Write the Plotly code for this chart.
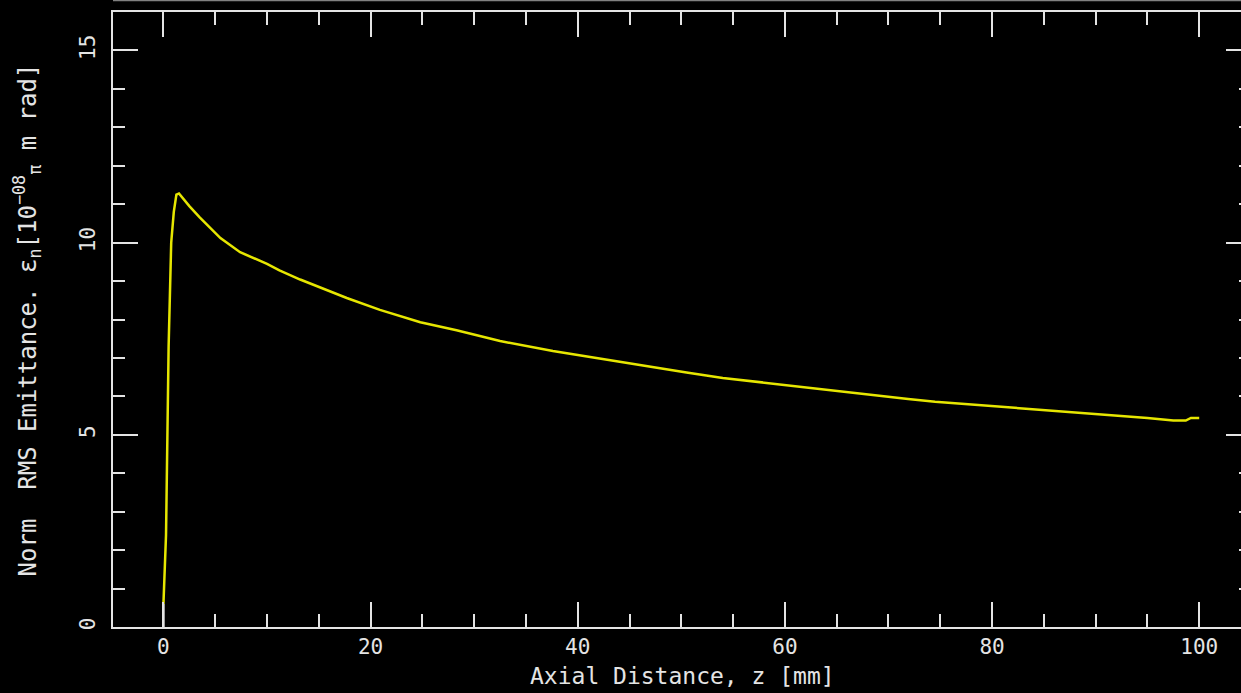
import plotly.graph_objects as go

# Normalised RMS emittance along the beam axis
z_mm = [0.0, 0.25, 0.5, 0.75, 1.0, 1.25, 1.5, 2.0, 2.5, 3.5, 4.5, 5.5, 6.0,
        7.4, 10.0, 11.2, 13.2, 14.5, 17.7, 20.9, 24.8, 28.3, 32.5, 37.6,
        41.2, 45.5, 50.5, 54.0, 58.2, 62.7, 67.5, 71.9, 74.5, 78.0, 81.0,
        84.5, 88.0, 91.5, 95.0, 97.5, 98.7, 99.2, 100.0]
emit_n = [0.6, 2.4, 7.3, 10.0, 10.8, 11.25, 11.28, 11.1, 10.95, 10.66, 10.38,
          10.12, 10.02, 9.75, 9.45, 9.28, 9.04, 8.9, 8.56, 8.25, 7.93, 7.72,
          7.44, 7.18, 7.02, 6.83, 6.62, 6.48, 6.35, 6.20, 6.07, 5.93, 5.86,
          5.79, 5.72, 5.65, 5.58, 5.51, 5.44, 5.37, 5.37, 5.44, 5.44]

# short starting segment at the cathode
z_start = [0.0, 0.0]
emit_start = [0.0, 0.6]

x_ticks = [0, 20, 40, 60, 80, 100]
y_ticks = [0, 5, 10, 15]

x_title = "Axial Distance, z [mm]"
y_title = ("Norm\u00a0 RMS Emittance. \u03b5<sub>n</sub>"
           "[10<sup>\u221208</sup><sub>\u03c0</sub> m rad]")

FG = "#e4e4e4"
FONT = "DejaVu Sans Mono"

fig = go.Figure()
fig.add_trace(go.Scatter(x=z_start, y=emit_start, mode="lines",
                         line=dict(color=FG, width=2.5), showlegend=False))
fig.add_trace(go.Scatter(x=z_mm, y=emit_n, mode="lines",
                         line=dict(color="#e6e600", width=2.5), showlegend=False))

axis_common = dict(
    showgrid=False, zeroline=False, showline=True, linecolor=FG, linewidth=2,
    mirror="ticks", ticks="inside", ticklen=25, tickwidth=2, tickcolor=FG,
    tickfont=dict(family=FONT, size=21, color=FG), automargin=False,
)

fig.update_xaxes(
    **axis_common,
    range=[-4.87, 105], tickvals=x_ticks, ticktext=[str(v) for v in x_ticks],
    minor=dict(dtick=5, tick0=0, ticks="inside", ticklen=13, tickwidth=2,
               tickcolor=FG, showgrid=False),
)
fig.update_yaxes(
    **axis_common,
    range=[0, 16], tickvals=y_ticks, ticktext=[str(v) for v in y_ticks],
    tickangle=-90, ticklabelstandoff=8,
    minor=dict(dtick=1, tick0=0, ticks="inside", ticklen=12, tickwidth=2,
               tickcolor=FG, showgrid=False),
)

# axis titles placed as annotations
fig.add_annotation(text=x_title, xref="paper", yref="paper", x=0.5, y=-0.08,
                   xanchor="center", yanchor="middle", showarrow=False,
                   font=dict(family=FONT, size=23, color=FG))
fig.add_annotation(text=y_title, xref="paper", yref="paper", x=-0.0756, y=0.5,
                   xanchor="center", yanchor="middle", showarrow=False,
                   textangle=-90, font=dict(family=FONT, size=24, color=FG))

# thin grey rule along the top edge of the page
fig.add_shape(type="line", xref="paper", yref="paper", x0=0, x1=1.05,
              y0=1.0187, y1=1.0187, line=dict(color="#808080", width=1.5))

fig.update_layout(
    width=1261, height=693,
    margin=dict(l=113, r=10, t=12, b=66),
    paper_bgcolor="black", plot_bgcolor="black",
    showlegend=False,
)

fig.write_html("out.html",
               post_script="document.documentElement.style.overflow='hidden';"
                           "document.body.style.overflow='hidden';")
